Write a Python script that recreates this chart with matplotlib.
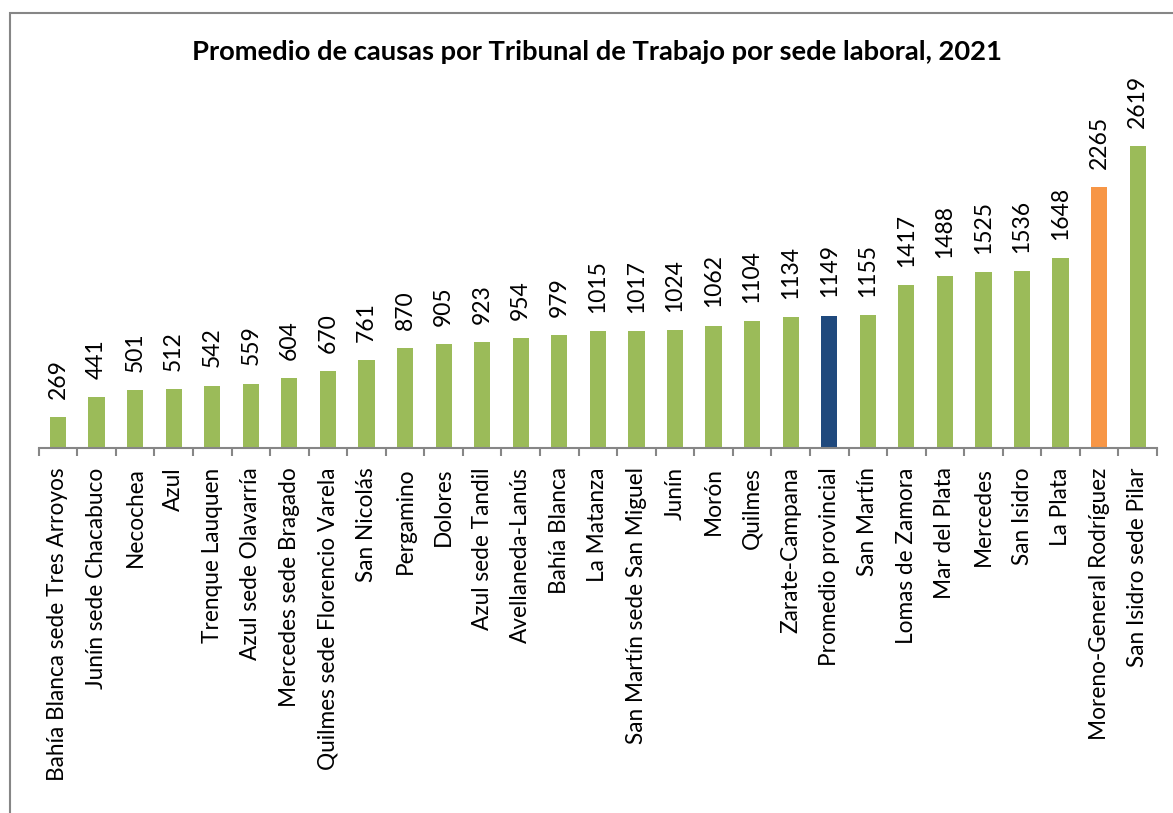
"""Promedio de causas por Tribunal de Trabajo, 2021."""

import numpy as np
import matplotlib.pyplot as plt
from matplotlib.patches import Rectangle

sedes = [
    'Bahía Blanca sede Tres Arroyos', 'Junín sede Chacabuco', 'Necochea', 'Azul',
    'Trenque Lauquen', 'Azul sede Olavarría', 'Mercedes sede Bragado',
    'Quilmes sede Florencio Varela', 'San Nicolás', 'Pergamino', 'Dolores',
    'Azul sede Tandil', 'Avellaneda-Lanús', 'Bahía Blanca', 'La Matanza',
    'San Martín sede San Miguel', 'Junín', 'Morón', 'Quilmes', 'Zarate-Campana',
    'Promedio provincial', 'San Martín', 'Lomas de Zamora', 'Mar del Plata',
    'Mercedes', 'San Isidro', 'La Plata', 'Moreno-General Rodríguez',
    'San Isidro sede Pilar',
]
causas = [269, 441, 501, 512, 542, 559, 604, 670, 761, 870, 905, 923, 954, 979,
          1015, 1017, 1024, 1062, 1104, 1134, 1149, 1155, 1417, 1488, 1525,
          1536, 1648, 2265, 2619]

GREEN = '#9BBB59'
BLUE = '#1F497D'
ORANGE = '#F79646'

colors = [GREEN] * len(sedes)
colors[sedes.index('Promedio provincial')] = BLUE
colors[sedes.index('Moreno-General Rodríguez')] = ORANGE

plt.rcParams['font.family'] = ['Lato', 'DejaVu Sans']

W, H = 1173, 813
fig = plt.figure(figsize=(W / 100, H / 100), dpi=100)

# chart frame (only left and top edges visible in the crop)
fig.patches.append(Rectangle((10 / W, -0.1), 1.2, (H - 13) / H + 0.1,
                             transform=fig.transFigure, facecolor='none',
                             edgecolor='#868686', linewidth=1.5))

ax_left, ax_right = 38.7, 1157
ax_bottom, ax_top = 448, 100
ax = fig.add_axes([ax_left / W, (H - ax_bottom) / H,
                   (ax_right - ax_left) / W, (ax_bottom - ax_top) / H])

x = np.arange(len(sedes))
ax.bar(x, causas, width=0.42, color=colors)
ax.set_xlim(-0.5, len(sedes) - 0.5)
ax.set_ylim(0, 3018)

for xi, v in zip(x, causas):
    ax.annotate(f'{v}', (xi, v), xytext=(0, 13), textcoords='offset points',
                rotation=90, ha='center', va='bottom', fontsize=16.5)

for side in ['top', 'right', 'left']:
    ax.spines[side].set_visible(False)
ax.spines['bottom'].set_color('#868686')
ax.spines['bottom'].set_linewidth(1.5)
ax.set_yticks([])

ax.set_xticks(x)
ax.set_xticklabels(sedes, rotation=90, fontsize=16.3)
ax.tick_params(axis='x', which='major', length=0, pad=14)
ax.set_xticks(np.arange(len(sedes) + 1) - 0.5, minor=True)
ax.tick_params(axis='x', which='minor', length=6, width=1.5, color='#868686')

fig.text(597 / W, (H - 52) / H,
         'Promedio de causas por Tribunal de Trabajo por sede laboral, 2021',
         ha='center', va='center', fontsize=19.7, fontweight='bold')

fig.savefig('out.png', dpi=100)
